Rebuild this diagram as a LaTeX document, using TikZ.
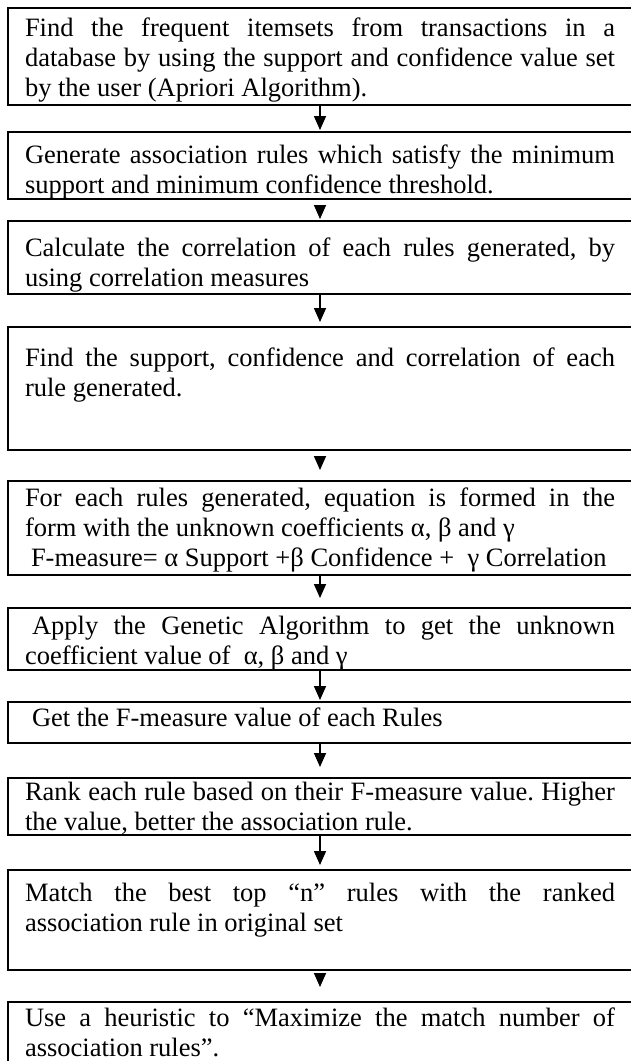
\documentclass[tikz,border=0pt]{standalone}
\usepackage{fontspec}
\setmainfont{Liberation Serif}
\usetikzlibrary{arrows.meta}
\newcommand\boxfont{\fontsize{26.5}{30}\selectfont\frenchspacing\hyphenpenalty=10000\exhyphenpenalty=10000\tolerance=9999}
\newcommand\mytop[1]{\noindent\rule{0pt}{#1pt}}
\newcommand\mybot[1]{\rule[-#1pt]{0pt}{#1pt}}
\begin{document}
\begin{tikzpicture}[x=1pt,y=-1pt,
  box/.style={draw, line width=2pt, rectangle, anchor=north west, inner xsep=17pt, inner ysep=0pt, outer sep=0pt, text width=590pt, align=justify, font=\boxfont},
  arr/.style={line width=1.6pt, -{Triangle[width=12pt,length=14pt]}}]
\useasboundingbox (0,0) rectangle (631,1061);
\clip (0,0) rectangle (631,1061);
\node[box] (b1) at (8,8) {\mytop{28}Find the frequent itemsets from transactions in a\linebreak database by using the support and confidence value set\linebreak by the user (Apriori Algorithm).\mybot{9}};
\node[box] (b2) at (8,132) {\mytop{31}Generate association rules which satisfy the minimum\linebreak support and minimum confidence threshold.\mybot{6}};
\node[box] (b3) at (8,221) {\mytop{35}Calculate the correlation of each rules generated, by\linebreak using correlation measures\mybot{8}};
\node[box] (b4) at (8,327) {\mytop{39}Find the support, confidence and correlation of each\linebreak rule generated.\mybot{54}};
\node[box] (b5) at (8,481) {\mytop{25}For each rules generated, equation is formed in the\linebreak form with the unknown coefficients α, β and γ\newline
\hspace*{6pt}F-measure= α Support +β Confidence + \ γ Correlation\mybot{9}};
\node[box] (b6) at (8,608) {\mytop{26}\hspace*{7pt}Apply the Genetic Algorithm to get the unknown\linebreak coefficient value of \ α, β and γ\mybot{6}};
\node[box] (b7) at (8,702) {\mytop{24}\hspace*{7pt}Get the F-measure value of each Rules\mybot{17}};
\node[box] (b8) at (8,778) {\mytop{22}Rank each rule based on their F-measure value. Higher\linebreak the value, better the association rule.\mybot{5}};
\node[box] (b9) at (8,870) {\mytop{31}Match the best top “n” rules with the ranked\linebreak association rule in original set\mybot{39}};
\node[box] (b10) at (8,1002) {\mytop{24}Use a heuristic to “Maximize the match number of\linebreak association rules”.\mybot{20}};
\draw[arr, shorten >=2pt] (b1.south) -- (b2.north);
\draw[arr, shorten <=6pt, shorten >=2pt] (b2.south) -- (b3.north);
\draw[arr, shorten >=5pt] (b3.south) -- (b4.north);
\draw[arr, shorten <=6pt, shorten >=11pt] (b4.south) -- (b5.north);
\draw[arr, shorten >=10pt] (b5.south) -- (b6.north);
\draw[arr, shorten >=2pt] (b6.south) -- (b7.north);
\draw[arr, shorten >=11pt] (b7.south) -- (b8.north);
\draw[arr, shorten >=5pt] (b8.south) -- (b9.north);
\draw[arr, shorten <=3pt, shorten >=15pt] (b9.south) -- (b10.north);
\end{tikzpicture}
\end{document}
